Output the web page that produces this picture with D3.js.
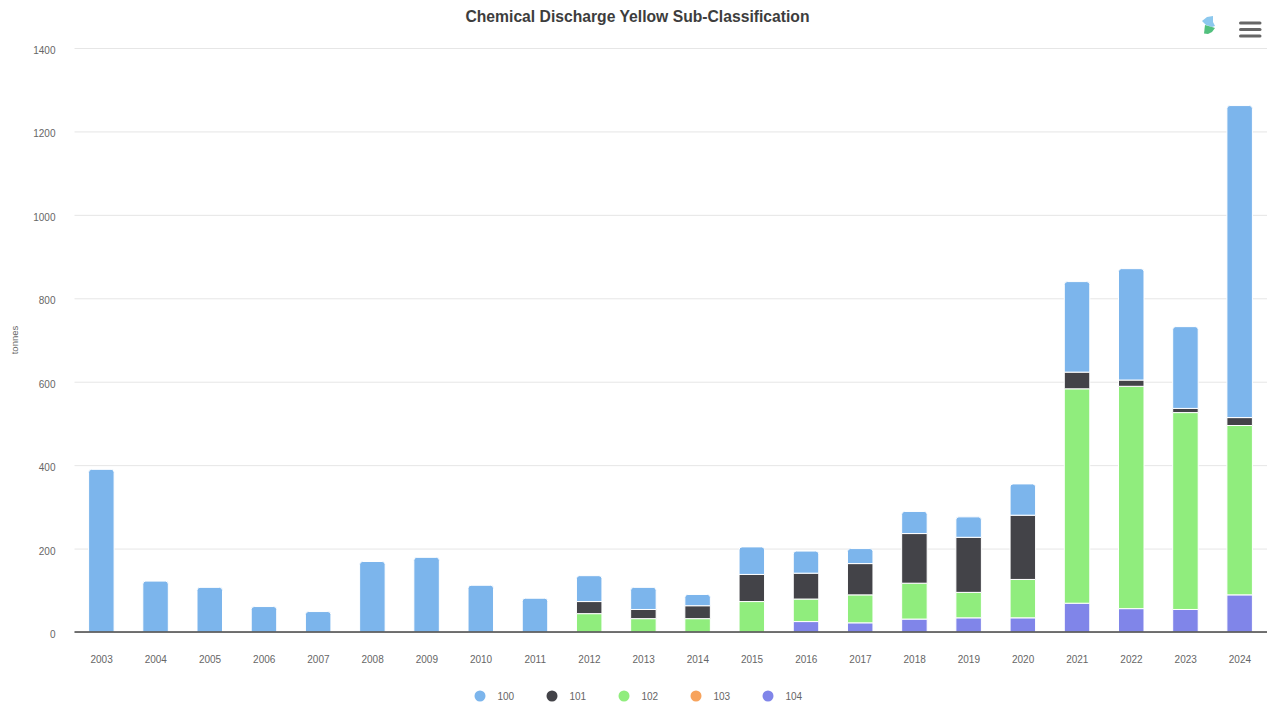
<!DOCTYPE html>
<html>
<head>
<meta charset="utf-8">
<script src="https://cdnjs.cloudflare.com/ajax/libs/d3/7.8.5/d3.min.js"></script>
<style>
  html, body { margin: 0; padding: 0; background: #fff; overflow: hidden; }
  svg { display: block; font-family: "Liberation Sans", Arial, sans-serif; }
</style>
</head>
<body>
<svg id="chart" width="1275" height="703"></svg>
<script>
// Annual discharge in tonnes, one array per sub-classification.
const years = [2003, 2004, 2005, 2006, 2007, 2008, 2009, 2010, 2011, 2012, 2013,
               2014, 2015, 2016, 2017, 2018, 2019, 2020, 2021, 2022, 2023, 2024];
const class100 = [390, 122, 107, 61, 49, 169, 179, 112, 81, 62, 53, 27, 66, 53, 36, 53, 49, 75, 217, 267, 196, 748];
const class101 = [0, 0, 0, 0, 0, 0, 0, 0, 0, 29, 22, 31, 65, 62, 75, 119, 132, 154, 40, 15, 10, 19];
const class102 = [0, 0, 0, 0, 0, 0, 0, 0, 0, 44, 32, 32, 73, 54, 67, 86, 61, 92, 514, 533, 472, 406];
const class103 = [0, 0, 0, 0, 0, 0, 0, 0, 0, 0, 0, 0, 0, 0, 0, 0, 0, 0, 0, 0, 0, 0];
const class104 = [0, 0, 0, 0, 0, 0, 0, 0, 0, 0, 0, 0, 0, 25, 22, 31, 34, 34, 69, 56, 54, 89];
const seriesNames = ["100", "101", "102", "103", "104"];
const seriesColors = ["#7cb5ec", "#434348", "#90ed7d", "#f7a35c", "#8085e9"];
const yTicks = [0, 200, 400, 600, 800, 1000, 1200, 1400];

const seriesValues = [class100, class101, class102, class103, class104];
const rows = years.map((year, i) => {
  const row = { year };
  seriesNames.forEach((name, s) => { row[name] = seriesValues[s][i]; });
  return row;
});

const svg = d3.select("#chart");
const plot = { left: 74.5, right: 1267, top: 48, bottom: 632 };

const x = d3.scaleBand().domain(years).range([plot.left, plot.right]).paddingInner(0).paddingOuter(0);
const y = d3.scaleLinear().domain([0, 1400]).range([plot.bottom, plot.top]);
const barWidth = 25.5;

// Title
svg.append("text")
  .attr("x", 637.5).attr("y", 21.5)
  .attr("text-anchor", "middle")
  .attr("font-size", 15.7).attr("font-weight", 700).attr("fill", "#3d3d3d")
  .text("Chemical Discharge Yellow Sub-Classification");

// Value axis: grid lines and labels
const yAxis = svg.append("g").attr("transform", `translate(${plot.left},0)`)
  .call(d3.axisLeft(y).tickValues(yTicks).tickSize(-(plot.right - plot.left)).tickPadding(19).tickFormat(d3.format("d")));
yAxis.select(".domain").remove();
yAxis.selectAll(".tick line").attr("stroke", "#e6e6e6");
yAxis.selectAll(".tick text").attr("fill", "#666666").attr("font-size", 10)
  .attr("font-family", "'Liberation Sans', Arial, sans-serif").attr("dy", "0.55em");

svg.append("text")
  .attr("transform", "translate(18,340) rotate(-90)")
  .attr("text-anchor", "middle")
  .attr("font-size", 9.5).attr("fill", "#666666")
  .text("tonnes");

// Stacked columns, first series on top of the stack
const stackOrder = seriesNames.slice().reverse();
const layers = d3.stack().keys(stackOrder)(rows);
const topKey = row => seriesNames.find(name => row[name] > 0);

function segmentPath(px, py0, py1, rounded) {
  const r = rounded ? Math.min(3, py0 - py1) : 0;
  const w = barWidth;
  return `M${px},${py0}V${py1 + r}` +
    (r ? `Q${px},${py1} ${px + r},${py1}` : "") +
    `H${px + w - r}` +
    (r ? `Q${px + w},${py1} ${px + w},${py1 + r}` : "") +
    `V${py0}Z`;
}

layers.forEach(layer => {
  const color = seriesColors[seriesNames.indexOf(layer.key)];
  svg.append("g").selectAll("path")
    .data(layer.filter(d => d[1] > d[0]))
    .join("path")
    .attr("d", d => {
      const px = x(d.data.year) + (x.bandwidth() - barWidth) / 2 - 0.25;
      return segmentPath(px, y(d[0]), y(d[1]), topKey(d.data) === layer.key);
    })
    .attr("fill", color)
    .attr("stroke", "#ffffff")
    .attr("stroke-width", 1);
});

// Category axis: baseline and year labels
svg.append("line")
  .attr("x1", plot.left).attr("x2", plot.right)
  .attr("y1", plot.bottom).attr("y2", plot.bottom)
  .attr("stroke", "#444444").attr("stroke-width", 1.3);
const xAxis = svg.append("g").attr("transform", `translate(0,${plot.bottom})`)
  .call(d3.axisBottom(x).tickSize(0).tickPadding(24).tickFormat(d3.format("d")));
xAxis.select(".domain").remove();
xAxis.selectAll(".tick text").attr("fill", "#666666").attr("font-size", 10)
  .attr("font-family", "'Liberation Sans', Arial, sans-serif");

// Legend
const legendX = d3.scalePoint().domain(seriesNames).range([480, 768]);
const legend = svg.append("g").selectAll("g").data(seriesNames).join("g")
  .attr("transform", d => `translate(${legendX(d)},696)`);
legend.append("circle").attr("r", 5.5).attr("fill", (d, i) => seriesColors[i]);
legend.append("text")
  .attr("x", 17.5).attr("y", 3.5)
  .attr("font-size", 10).attr("fill", "#666666")
  .text(d => d);

// Small brand mark in the top corner
const mark = svg.append("g").attr("transform", "translate(1202,16)");
mark.append("path")
  .attr("d", "M0,5 L5,1 L11,0 L11,6 L13,10 L10,11 L4,9 Z")
  .attr("fill", "#8cc8ee");
mark.append("path")
  .attr("d", "M3,9 L10,11 L13,12 L10,16 L6,18 L2,17.5 Z")
  .attr("fill", "#52c07e");

// Menu button
svg.append("g").selectAll("line").data([23, 29.5, 36]).join("line")
  .attr("x1", 1240.5).attr("x2", 1260)
  .attr("y1", d => d).attr("y2", d => d)
  .attr("stroke", "#666666").attr("stroke-width", 3).attr("stroke-linecap", "round");
</script>
</body>
</html>
